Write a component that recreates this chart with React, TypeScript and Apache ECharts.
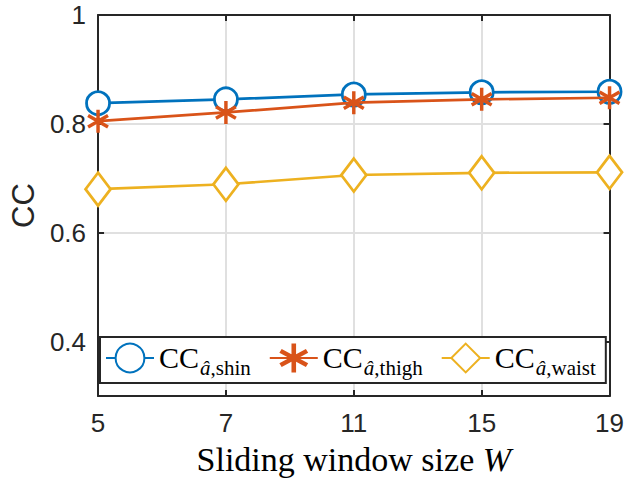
import React, { useEffect, useRef } from "react";
import * as echarts from "echarts";

const windowSizes = ["5", "7", "11", "15", "19"];
const ccShin = [0.838, 0.845, 0.854, 0.858, 0.859];
const ccThigh = [0.805, 0.821, 0.839, 0.845, 0.848];
const ccWaist = [0.68, 0.689, 0.706, 0.71, 0.711];
const yTicks = [0.4, 0.6, 0.8, 1];
const seriesNames = ["shin", "thigh", "waist"];

const BLUE = "#0072BD";
const RED = "#D95319";
const YELLOW = "#EDB120";
const AX = "#262626";
const GRID = "#e0e0e0";
const ASTERISK =
  "path://M-1.5 -10L1.5 -10L1.5 10L-1.5 10Z" +
  "M7.91 -6.3L9.41 -3.7L-7.91 6.3L-9.41 3.7Z" +
  "M-9.41 -3.7L-7.91 -6.3L9.41 3.7L7.91 6.3Z";

export default function App() {
  const ref = useRef<HTMLDivElement>(null);
  useEffect(() => {
    if (!ref.current) return;
    const chart = echarts.init(ref.current, null, { renderer: "svg" });
    const axisLineStyle = { color: AX, width: 2 };
    const tickStyle = { color: AX, width: 2 };
    const option: any = {
      animation: false,
      backgroundColor: "#fff",
      grid: { left: 95, right: 16, top: 15, bottom: 84 },
      legend: {
        left: 100,
        top: 337,
        orient: "horizontal",
        itemWidth: 48,
        itemHeight: 36,
        itemGap: 18,
        padding: [5, 10, 5, 5],
        backgroundColor: "#fff",
        borderColor: AX,
        borderWidth: 2,
        borderRadius: 0,
        data: seriesNames,
        formatter: (name: string) => `{a|CC}{c|â}{b|,${name}}`,
        textStyle: {
          color: "#000",
          rich: {
            a: { fontFamily: "Liberation Serif", fontSize: 30, lineHeight: 32, verticalAlign: "top", color: "#000" },
            c: { fontFamily: "Liberation Serif", fontStyle: "italic", fontSize: 21, lineHeight: 22, verticalAlign: "top", padding: [15, 0, 0, 1], color: "#000" },
            b: { fontFamily: "Liberation Serif", fontSize: 21, lineHeight: 22, verticalAlign: "top", padding: [15, 0, 0, 0], color: "#000" },
          },
        },
      },
      xAxis: [
        {
          type: "category",
          data: windowSizes,
          boundaryGap: false,
          position: "bottom",
          axisLine: { show: true, lineStyle: axisLineStyle },
          axisTick: { show: true, inside: true, length: 6, lineStyle: tickStyle },
          axisLabel: { color: AX, fontFamily: "Liberation Sans", fontSize: 26, margin: 14 },
          splitLine: { show: true, lineStyle: { color: GRID, width: 2 } },
          name: "{r|Sliding window size }{i|W}",
          nameLocation: "middle",
          nameGap: 46,
          nameTextStyle: {
            rich: {
              r: { fontFamily: "Liberation Serif", fontSize: 34, color: "#000" },
              i: { fontFamily: "Liberation Serif", fontStyle: "italic", fontSize: 34, color: "#000" },
            },
          },
        },
        {
          type: "category",
          data: windowSizes,
          boundaryGap: false,
          position: "top",
          axisLine: { show: true, lineStyle: axisLineStyle },
          axisTick: { show: true, inside: true, length: 6, lineStyle: tickStyle },
          axisLabel: { show: false },
          splitLine: { show: false },
        },
      ],
      yAxis: [
        {
          type: "value",
          min: 0.3,
          max: 1,
          position: "left",
          axisLine: { show: true, lineStyle: axisLineStyle },
          axisTick: { show: true, inside: true, length: 6, customValues: yTicks, lineStyle: tickStyle },
          axisLabel: {
            color: AX,
            fontFamily: "Liberation Sans",
            fontSize: 26,
            margin: 12,
            customValues: yTicks,
            formatter: (v: number) => String(Math.round(v * 10) / 10),
          },
          splitLine: { show: true, lineStyle: { color: GRID, width: 2 } },
          name: "CC",
          nameLocation: "middle",
          nameGap: 57,
          nameTextStyle: { fontFamily: "Liberation Sans", fontSize: 31, color: AX },
        },
        {
          type: "value",
          min: 0.3,
          max: 1,
          position: "right",
          axisLine: { show: true, lineStyle: axisLineStyle },
          axisTick: { show: true, inside: true, length: 6, customValues: yTicks, lineStyle: tickStyle },
          axisLabel: { show: false, customValues: yTicks },
          splitLine: { show: false },
        },
      ],
      series: [
        {
          name: "shin",
          type: "line",
          data: ccShin,
          symbol: "circle",
          symbolSize: 23,
          lineStyle: { color: BLUE, width: 2.7 },
          itemStyle: { color: "#fff", borderColor: BLUE, borderWidth: 2.8 },
          z: 3,
        },
        {
          name: "thigh",
          type: "line",
          data: ccThigh,
          symbol: ASTERISK,
          symbolSize: 23,
          symbolKeepAspect: true,
          lineStyle: { color: RED, width: 2.7 },
          itemStyle: { color: RED, borderWidth: 0 },
          z: 4,
        },
        {
          name: "waist",
          type: "line",
          data: ccWaist,
          symbol: "diamond",
          symbolSize: [25, 33],
          lineStyle: { color: YELLOW, width: 2.7 },
          itemStyle: { color: "#fff", borderColor: YELLOW, borderWidth: 2.8 },
          z: 3,
        },
      ],
    };
    chart.setOption(option);
    return () => chart.dispose();
  }, []);
  return (
    <div
      ref={ref}
      style={{ position: "fixed", left: 0, top: 0, width: 627, height: 481, background: "#fff" }}
    />
  );
}
